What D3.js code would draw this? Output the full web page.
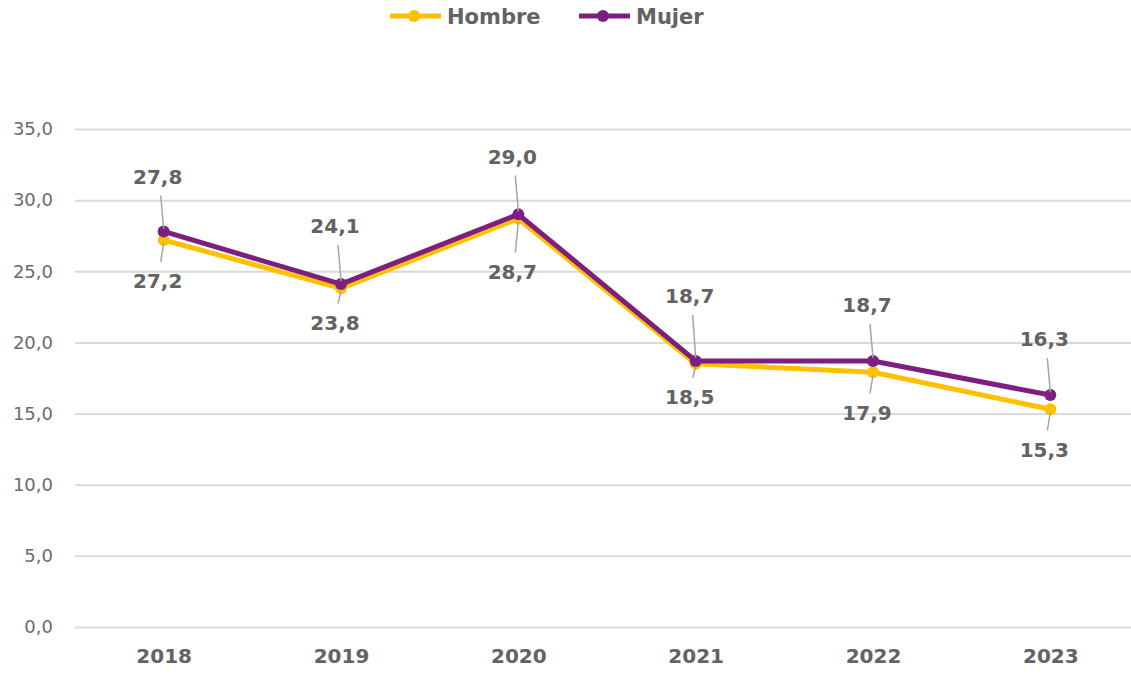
<!DOCTYPE html>
<html>
<head>
<meta charset="utf-8">
<script src="https://cdn.jsdelivr.net/npm/d3@7"></script>
<style>
  body { margin: 0; background: #fff; }
  svg { display: block; font-family: "DejaVu Sans", Verdana, sans-serif; }
</style>
</head>
<body>
<div class="svg-container"></div>
<script>
const years = ["2018", "2019", "2020", "2021", "2022", "2023"];
const hombre = [27.2, 23.8, 28.7, 18.5, 17.9, 15.3];
const mujer = [27.8, 24.1, 29.0, 18.7, 18.7, 16.3];
const yTicks = [0, 5, 10, 15, 20, 25, 30, 35];

// label placement (px from point), Mujer above, Hombre below
const mujerDy = [-55, -58, -58, -65, -56, -56];
const hombreDy = [41, 34, 53, 33, 40, 40];

const width = 1131, height = 673;
const textColor = "#636363";
const colors = { Hombre: "#FFC000", Mujer: "#7D1F7E" };

const svg = d3.select("div.svg-container").append("svg")
    .attr("width", width).attr("height", height);

const x = d3.scalePoint().domain(years).range([75, 1139]).padding(0.5);
const y = d3.scaleLinear().domain([0, 35]).range([627, 129]);

// gridlines + y labels
const yAxis = d3.axisLeft(y).tickValues(yTicks)
    .tickSize(-(1139 - 75))
    .tickPadding(22)
    .tickFormat(d => d3.format(".1f")(d).replace(".", ","));
const yG = svg.append("g").attr("transform", "translate(75,0)").call(yAxis);
yG.select(".domain").remove();
yG.selectAll(".tick line").attr("stroke", "#D9D9D9").attr("stroke-width", 2);
yG.selectAll(".tick text").attr("fill", "#6b6b6b").attr("font-size", 18)
    .attr("font-family", "DejaVu Sans, sans-serif");

// x labels
const xAxis = d3.axisBottom(x).tickSize(0).tickPadding(22);
const xG = svg.append("g").attr("transform", "translate(0,627)").call(xAxis);
xG.select(".domain").remove();
xG.selectAll(".tick text").attr("fill", textColor).attr("font-size", 20)
    .attr("font-weight", "bold").attr("font-family", "DejaVu Sans, sans-serif");

const line = d3.line().x((d, i) => x(years[i])).y(d => y(d));

const series = [
  { name: "Hombre", values: hombre, dy: hombreDy },
  { name: "Mujer", values: mujer, dy: mujerDy }
];

series.forEach(s => {
  svg.append("path").datum(s.values)
    .attr("fill", "none")
    .attr("stroke", colors[s.name])
    .attr("stroke-width", 5)
    .attr("stroke-linejoin", "round")
    .attr("d", line);
  svg.append("g").selectAll("circle").data(s.values).join("circle")
    .attr("cx", (d, i) => x(years[i]))
    .attr("cy", d => y(d))
    .attr("r", 6)
    .attr("fill", colors[s.name]);
});

// data labels with leader lines
series.forEach(s => {
  const above = s.name === "Mujer";
  const g = svg.append("g");
  s.values.forEach((v, i) => {
    const px = x(years[i]), py = y(v);
    const lx = px - 6, ly = py + s.dy[i];
    const y1 = above ? ly + 19 : ly - 19;
    const y2 = above ? py - 3 : py + 3;
    g.append("line")
      .attr("x1", lx + 3).attr("y1", y1)
      .attr("x2", px).attr("y2", y2)
      .attr("stroke", "#A6A6A6").attr("stroke-width", 1.5);
    g.append("text")
      .attr("x", lx).attr("y", ly)
      .attr("dy", "0.36em")
      .attr("text-anchor", "middle")
      .attr("fill", textColor)
      .attr("font-size", 20)
      .attr("font-weight", "bold")
      .text(d3.format(".1f")(v).replace(".", ","));
  });
});

// legend
const legend = svg.append("g");
const legendItems = [
  { name: "Hombre", x: 390 },
  { name: "Mujer", x: 579 }
];
legendItems.forEach(it => {
  const lg = legend.append("g").attr("transform", `translate(${it.x},16)`);
  lg.append("line").attr("x1", 0).attr("x2", 51).attr("y1", 0).attr("y2", 0)
    .attr("stroke", colors[it.name]).attr("stroke-width", 5);
  lg.append("circle").attr("cx", 24).attr("cy", 0).attr("r", 6).attr("fill", colors[it.name]);
  lg.append("text").attr("x", 57).attr("y", 0).attr("dy", "0.36em")
    .attr("fill", textColor).attr("font-size", 21).attr("font-weight", "bold")
    .text(it.name);
});
</script>
</body>
</html>
